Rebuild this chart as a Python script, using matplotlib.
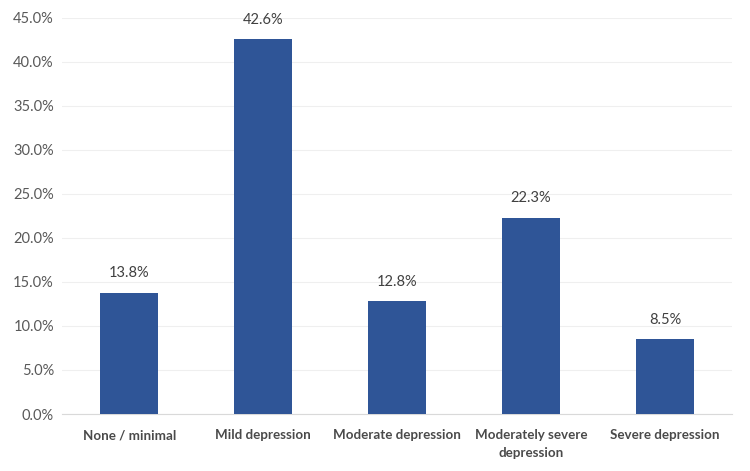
import matplotlib
matplotlib.use("Agg")
import matplotlib.pyplot as plt
from matplotlib.ticker import PercentFormatter

categories = ["None / minimal", "Mild depression", "Moderate depression",
              "Moderately severe\ndepression", "Severe depression"]
values = [13.8, 42.6, 12.8, 22.3, 8.5]
yticks = [0, 5, 10, 15, 20, 25, 30, 35, 40, 45]

plt.rcParams['font.family'] = ['Lato', 'DejaVu Sans']

fig = plt.figure(figsize=(7.5, 4.71), dpi=100)
ax = fig.add_axes([0.083, 0.121, 0.893, 0.841])

x = range(len(categories))
bars = ax.bar(x, values, width=0.43, color="#2F5597", zorder=3)
for b, v in zip(bars, values):
    ax.text(b.get_x() + b.get_width() / 2, v + 1.4, f"{v:.1f}%",
            ha="center", va="bottom", fontsize=10.5, color="#404040")

ax.set_xlim(-0.5, len(categories) - 0.5)
ax.set_ylim(0, 45)
ax.set_yticks(yticks)
ax.yaxis.set_major_formatter(PercentFormatter(decimals=1))
ax.set_xticks(list(x))
ax.set_xticklabels(categories, fontweight="bold", color="#4A4A4A",
                   fontsize=9.6, linespacing=1.55)
ax.tick_params(axis="y", colors="#595959", labelsize=10.5, length=0, pad=6)
ax.tick_params(axis="x", length=0, pad=11)
ax.grid(axis="y", color="#EFEFEF", lw=0.8, zorder=0)
for s in ["top", "right", "left"]:
    ax.spines[s].set_visible(False)
ax.spines["bottom"].set_color("#D9D9D9")

fig.savefig("out.png", dpi=100)
